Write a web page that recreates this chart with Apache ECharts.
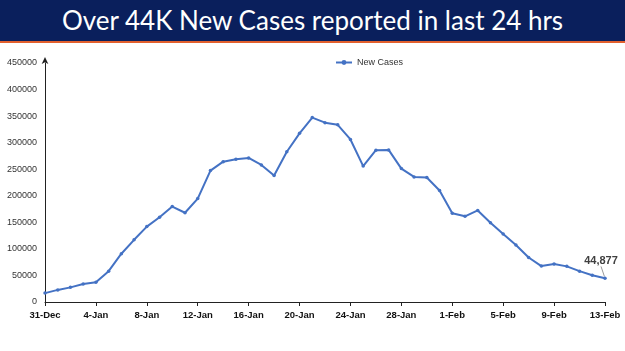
<!DOCTYPE html>
<html>
<head>
<meta charset="utf-8">
<script src="https://cdn.jsdelivr.net/npm/echarts@6/dist/echarts.min.js"></script>
<style>
    html, body {margin: 0; padding: 0; background: #fff;}
    #banner {
        position: absolute; left: 0; top: 0; width: 625px; height: 41px;
        background: #0a1f5c; border-bottom: 2px solid #e2602e;
        color: #fff; font-family: Lato, sans-serif; font-size: 26px;
        line-height: 40px; text-align: center;
    }
    #chart {position: absolute; left: 0; top: 0; width: 625px; height: 351px;}
</style>
</head>
<body>
<div id="chart"></div>
<div id="banner">Over 44K New Cases reported in last 24 hrs</div>
<script>
// dates shown on the x axis (one per day)
const dates = [
    '31-Dec',
    '1-Jan', '2-Jan', '3-Jan', '4-Jan', '5-Jan', '6-Jan', '7-Jan', '8-Jan', '9-Jan', '10-Jan',
    '11-Jan', '12-Jan', '13-Jan', '14-Jan', '15-Jan', '16-Jan', '17-Jan', '18-Jan', '19-Jan', '20-Jan',
    '21-Jan', '22-Jan', '23-Jan', '24-Jan', '25-Jan', '26-Jan', '27-Jan', '28-Jan', '29-Jan', '30-Jan', '31-Jan',
    '1-Feb', '2-Feb', '3-Feb', '4-Feb', '5-Feb', '6-Feb', '7-Feb', '8-Feb', '9-Feb', '10-Feb',
    '11-Feb', '12-Feb', '13-Feb'
];

// daily new cases
const newCases = [
    16764,
    22775, 27553, 33750, 37379, 58097, 90928, 117100, 141986, 159632, 179723,
    168063, 194720, 247417, 264202, 268833, 271202, 258089, 238018, 282970, 317532,
    347254, 337704, 333533, 306064, 255874, 285914, 286384, 251209, 235532, 234281, 209918,
    167059, 161386, 172433, 149394, 127952, 107474, 83876, 67597, 71365, 67084,
    58077, 50407, 44877
];

const seriesName = 'New Cases';

let myChart = echarts.init(document.getElementById('chart'));

const lastIdx = newCases.length - 1;

let option = {
    animation: false,
    textStyle: {fontFamily: 'Liberation Sans, Arial, sans-serif'},
    legend: {
        top: 53,
        left: 330,
        itemWidth: 16,
        itemHeight: 6,
        itemGap: 2,
        textStyle: {fontSize: 9, color: '#333'},
        data: [seriesName]
    },
    grid: {left: 45, right: 20, top: 63, bottom: 49, containLabel: false},
    xAxis: {
        type: 'category',
        data: dates,
        boundaryGap: false,
        axisLine: {lineStyle: {color: '#222', width: 1}},
        axisTick: {show: true, interval: 3, length: 4, lineStyle: {color: '#222'}},
        axisLabel: {
            interval: 3,
            fontSize: 9.5,
            fontWeight: 'bold',
            color: '#111',
            margin: 8
        },
        splitLine: {show: false}
    },
    yAxis: {
        type: 'value',
        min: 0,
        max: 450000,
        interval: 50000,
        axisLine: {
            show: true,
            symbol: ['none', 'arrow'],
            symbolSize: [5, 7],
            symbolOffset: [0, 6],
            lineStyle: {color: '#222', width: 1}
        },
        axisTick: {show: false},
        axisLabel: {
            fontSize: 9,
            color: '#333',
            margin: 8,
            formatter: v => String(v)
        },
        splitLine: {show: false}
    },
    series: [
        {
            name: seriesName,
            type: 'line',
            data: newCases.map((v, i) => i === lastIdx ? {
                value: v,
                label: {
                    show: true,
                    position: 'top',
                    formatter: p => p.value.toLocaleString('en-US'),
                    fontSize: 11,
                    fontWeight: 'bold',
                    color: '#404040'
                },
                labelLine: {show: true, lineStyle: {color: '#999', width: 1}}
            } : v),
            labelLayout: p => p.dataIndex === lastIdx ? {dx: -4, dy: -5} : {},
            symbol: 'circle',
            symbolSize: 3.5,
            showSymbol: true,
            lineStyle: {color: '#4472c4', width: 2},
            itemStyle: {color: '#4472c4'}
        }
    ]
};

myChart.setOption(option);
</script>
</body>
</html>
